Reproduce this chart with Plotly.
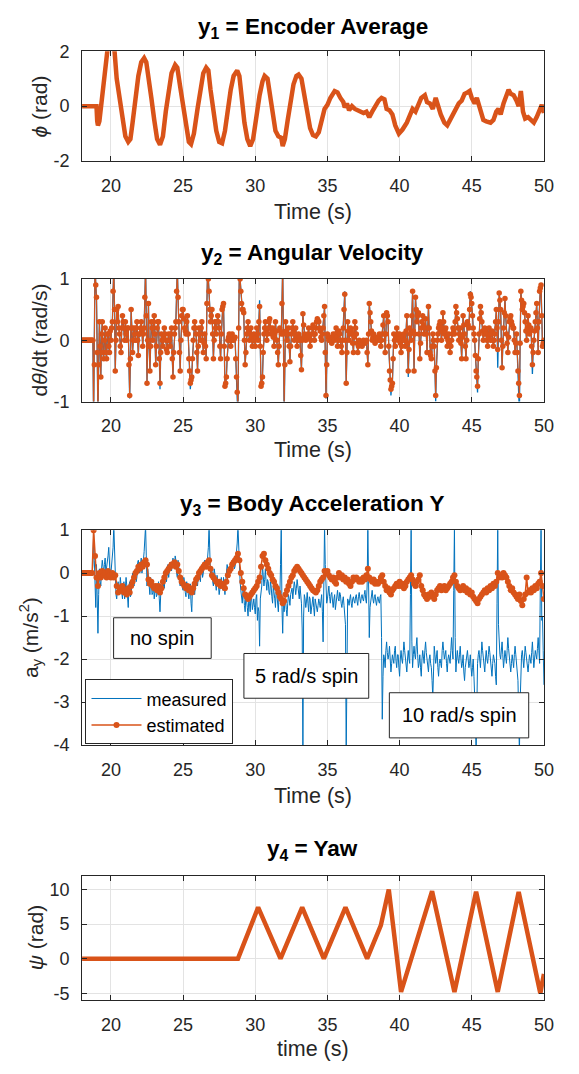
import numpy as np
import plotly.graph_objects as go

W, H = 579, 1074
BLUE = "#0072BD"
ORANGE = "#D95319"
AX = "#262626"
GRID = "#E3E3E3"
FONT = "Liberation Sans, Arial, Helvetica, sans-serif"

# ---------------- data ----------------
X_TICKS = [20, 25, 30, 35, 40, 45, 50]
Y1_TICKS = [-2, 0, 2]
Y2_TICKS = [-1, 0, 1]
Y3_TICKS = [-4, -3, -2, -1, 0, 1]
Y4_TICKS = [-5, 0, 5, 10]

# y1: encoder average (time, rad)
t1 = [18.0, 19.0, 19.05, 19.1, 19.2, 19.35, 19.5, 19.65, 19.75, 20.0,
      20.25, 20.4, 20.6, 20.8, 21.0, 21.2, 21.35, 21.5, 21.7, 21.9,
      22.1, 22.3, 22.45, 22.6, 22.8, 23.0, 23.2, 23.4, 23.6, 23.8,
      24.0, 24.2, 24.45, 24.6, 24.8, 25.0, 25.2, 25.4, 25.55, 25.75,
      26.0, 26.2, 26.4, 26.6, 26.75, 26.9, 27.1, 27.3, 27.5, 27.7,
      27.9, 28.1, 28.3, 28.5, 28.75, 28.9, 29.05, 29.25, 29.45, 29.65,
      29.85, 30.05, 30.3, 30.5, 30.65, 30.85, 31.0, 31.2, 31.4, 31.6,
      31.8, 31.9, 32.05, 32.25, 32.45, 32.65, 32.85, 33.0, 33.2, 33.4,
      33.6, 33.8, 34.0, 34.2, 34.4, 34.6, 34.8, 35.0, 35.2, 35.5,
      35.7, 35.9, 36.1, 36.2, 36.35, 36.5, 36.7, 36.9, 37.1, 37.3,
      37.5, 37.7, 37.9, 38.1, 38.3, 38.55, 38.75, 38.95, 39.1, 39.3,
      39.5, 39.7, 39.95, 40.2, 40.5, 40.7, 40.9, 41.1, 41.3, 41.5,
      41.75, 41.9, 42.1, 42.3, 42.5, 42.65, 42.85, 43.1, 43.3, 43.5,
      43.7, 43.9, 44.1, 44.3, 44.5, 44.7, 44.85, 45.0, 45.2, 45.35,
      45.5, 45.65, 45.8, 46.0, 46.3, 46.5, 46.7, 46.85, 47.0, 47.2,
      47.4, 47.55, 47.7, 47.9, 48.1, 48.25, 48.4, 48.55, 48.7, 48.9,
      49.1, 49.3, 49.5, 49.7, 49.85, 50.0]
phi1 = [0, 0, -0.55, -0.7, -0.55, 0.2, 0.9, 1.5, 2.0, 2.4,
        2.0, 1.0, 0.3, -0.5, -1.1, -1.3, -1.2, -0.6, 0.3, 1.1,
        1.6, 1.75, 1.6, 1.1, 0.3, -0.5, -1.2, -1.4, -1.1, -0.2,
        0.6, 1.2, 1.5, 1.4, 0.7, 0.0, -0.8, -1.3, -1.38, -1.0,
        -0.1, 0.7, 1.2, 1.4, 1.3, 0.6, -0.2, -0.9, -1.3, -1.35,
        -0.9, -0.1, 0.6, 1.1, 1.3, 1.1, 0.3, -0.6, -1.2, -1.45,
        -1.2, -0.4, 0.4, 0.9, 1.1, 1.0, 0.5, -0.3, -0.9, -1.1,
        -1.15, -1.45, -1.2, -0.5, 0.2, 0.8, 1.1, 1.15, 1.0, 0.4,
        -0.3, -0.8, -1.05, -1.1, -0.95, -0.5, -0.1, 0.05, 0.3, 0.55,
        0.5, 0.3, 0.15, -0.05, 0.1, -0.15, 0.0, -0.1, -0.15, -0.2,
        -0.25, -0.2, -0.4, -0.2, 0.0, 0.2, 0.3, 0.25, -0.1, -0.15,
        -0.3, -0.7, -1.0, -0.85, -0.6, -0.3, -0.1, -0.2, 0.1, 0.3,
        0.4, 0.15, 0.1, -0.1, 0.3, 0.0, -0.3, -0.6, -0.7, -0.5,
        -0.3, -0.1, 0.1, 0.2, 0.45, 0.5, 0.55, 0.3, 0.1, 0.3,
        0.05, -0.2, -0.5, -0.55, -0.6, -0.5, -0.2, -0.1, -0.3, 0.1,
        0.4, 0.6, 0.45, 0.4, 0.2, 0.0, 0.55, -0.2, -0.45, -0.4,
        -0.5, -0.6, -0.4, -0.1, 0.05, -0.25]

# sample grid for y2 / y3: values every 0.1 s from 18.0 s, plus
# "mid" values at the half-steps (18.05, 18.15, ...)
T0, DT = 18.0, 0.1

# y2: angular velocity, estimated (rad/s)
est2 = [0, 0, 0, 0, 0, 0, 0, 0, -1.3, 1.3,
        0.7, -1.3, 0.3, -0.6, 0.3, -0.3, 0.2, -0.3, 0.1, -0.2,
        0.0, 0.3, 1.2, -0.5, 0.5, 0.55, 0.1, -0.2, 0.4, 0.2,
        0.3, 0.0, 0.2, -0.9, 0.5, -0.2, 0.2, 0.0, 0.3, -0.25,
        0.1, 0.3, -0.1, 0.2, 1.2, -0.7, 0.6, -0.5, 0.3, 0.0,
        0.4, -0.4, 0.2, 0.3, -0.7, 0.1, -0.1, 0.2, 0.0, -0.2,
        0.1, -0.1, 0.2, -0.6, 0.1, 0.3, 1.2, 0.3, -0.5, 0.4,
        0.5, 0.2, 0.1, 0.4, -0.3, -0.7, -0.6, 0.0, 0.3, 0.1,
        -0.5, 0.2, 0.0, 0.3, -0.2, 0.1, -0.3, 1.2, 0.8, 0.3,
        0.5, -0.3, 0.3, 0.1, 0.4, 0.2, -0.3, 0.5, 0.6, -0.75,
        -0.6, 0.0, 0.1, -0.1, 0.1, 0.0, 0.05, -0.6, -1.1, 1.2,
        0.8, 0.5, 0.45, -0.4, 0.1, 0.3, 0.0, 0.2, -0.1, 0.1,
        -0.1, 0.2, 0.0, 0.55, -0.75, -0.6, 0.1, 0.3, 0.0, 0.2,
        0.35, 0.1, 0.2, -0.1, 0.3, 0.0, -0.4, 0.2, 0.1, 1.2,
        -1.1, 0.3, 0.0, 0.2, -0.35, 0.1, 0.3, 0.0, 0.2, -0.1,
        0.1, 0.0, -0.48, 0.43, 0.1, 0.0, 0.05, 0.2, -0.1, 0.1,
        0.25, 0.0, 0.2, 0.35, 0.3, 0.15, 0.0, 0.2, 0.55, -0.9,
        0.1, 0.0, 0.05, -0.05, 0.1, 0.0, 0.2, -0.1, 0.15, 0.0,
        -0.2, 0.2, 0.75, -0.7, 0.3, 0.0, 0.2, 0.1, -0.2, 0.3,
        0.1, -0.2, 0.0, -0.05, -0.1, 0.0, -0.05, 0.0, -0.4, 0.6,
        0.3, 0.0, 0.1, -0.05, 0.05, 0.0, 0.1, -0.1, 0.1, 0.4,
        -0.2, 0.45, 0.3, -0.5, -0.8, -0.7, 0.1, -0.1, 0.2, 0.0,
        0.1, -0.2, 0.0, 0.1, -0.1, 0.4, -0.5, 0.2, 0.0, 0.8,
        -0.5, 0.7, 0.3, 0.45, -0.3, 0.2, 0.4, 0.1, 0.35, -0.2,
        0.55, -0.2, -0.3, 0.1, -0.1, -0.9, 0.0, 0.2, 0.3, 0.0,
        0.45, 0.1, 0.2, -0.1, 0.1, -0.2, 0.0, 0.2, 0.1, 0.55,
        0.35, 0.0, 0.2, -0.3, 0.4, 0.1, -0.3, 0.3, 0.2, 0.75,
        0.6, 0.2, 0.0, -0.5, -0.75, 0.1, 0.55, 0.3, 0.0, 0.2,
        0.1, -0.1, 0.2, 0.0, 0.15, -0.1, 0.1, 0.5, -0.15, 0.77,
        0.5, -0.45, 0.2, 0.68, 0.1, -0.2, 0.3, 0.4, 0.25, 0.2,
        -0.2, 0.1, -0.5, -0.9, 0.8, 0.5, 0.6, 0.3, 0.0, 0.4,
        0.1, 0.2, -0.4, 0.0, 0.3, 0.6, -0.2, 0.8, 0.9, -0.1,
        0.0]
est2_mid = [0, 0, 0, 0, 0, 0, 0, 0, -0.4, 0.9,
            -0.2, -0.4, -0.1, 0.1, -0.2, 0.0, -0.2, 0.1, -0.1, 0.15,
            0.2, 0.8, 0.5, 0.0, 0.3, 0.2, -0.1, 0.2, 0.3, 0.0,
            0.1, 0.2, -0.4, -0.3, 0.2, 0.0, 0.1, 0.2, 0.0, 0.1,
            0.2, 0.15, 0.1, 0.7, 0.4, 0.0, -0.1, -0.1, 0.2, 0.3,
            0.1, -0.1, 0.3, -0.3, -0.2, 0.0, 0.05, 0.1, -0.15, 0.0,
            0.0, 0.1, -0.3, -0.2, 0.2, 0.8, 0.7, -0.2, 0.0, 0.5,
            0.35, 0.15, 0.3, 0.1, -0.5, -0.65, -0.3, 0.2, 0.2, -0.2,
            -0.1, 0.1, 0.2, 0.0, -0.05, -0.1, 0.6, 1.0, 0.5, 0.4,
            0.1, 0.0, 0.2, 0.3, 0.3, -0.1, 0.1, 0.55, -0.1, -0.7,
            -0.3, 0.05, 0.0, 0.0, 0.05, 0.03, -0.3, -0.85, 0.2, 1.0,
            0.6, 0.5, 0.0, -0.2, 0.2, 0.15, 0.1, 0.05, 0.0, 0.0,
            0.05, 0.1, 0.3, -0.1, -0.7, -0.2, 0.2, 0.15, 0.1, 0.3,
            0.2, 0.15, 0.05, 0.1, 0.15, -0.2, -0.1, 0.15, 0.6, 0.1,
            -0.4, 0.15, 0.1, -0.1, -0.1, 0.2, 0.15, 0.1, 0.05, 0.0,
            0.05, -0.25, 0.0, 0.25, 0.05, 0.02, 0.1, 0.05, 0.0, 0.2,
            0.1, 0.1, 0.3, 0.32, 0.2, 0.05, 0.1, 0.4, -0.2, -0.4,
            0.05, 0.02, 0.0, 0.05, 0.05, 0.1, 0.05, 0.0, 0.1, -0.1,
            0.0, 0.5, 0.0, -0.2, 0.15, 0.1, 0.15, -0.05, 0.05, 0.2,
            -0.05, -0.1, -0.02, -0.08, -0.05, -0.02, -0.03, -0.2, 0.1, 0.45,
            0.15, 0.05, 0.03, 0.0, 0.02, 0.05, 0.0, 0.0, 0.25, 0.1,
            0.1, 0.4, -0.1, -0.65, -0.75, -0.3, 0.0, 0.05, 0.1, 0.05,
            -0.05, -0.1, 0.05, 0.0, 0.15, -0.05, -0.15, 0.1, 0.4, 0.15,
            0.1, 0.5, 0.4, 0.1, -0.05, 0.3, 0.25, 0.2, 0.1, 0.2,
            0.2, -0.25, -0.1, 0.0, -0.5, -0.45, 0.1, 0.25, 0.15, 0.2,
            0.3, 0.15, 0.05, 0.0, -0.05, -0.1, 0.1, 0.15, 0.3, 0.45,
            0.2, 0.1, -0.05, 0.05, 0.25, -0.1, 0.0, 0.25, 0.5, 0.7,
            0.4, 0.1, -0.25, -0.6, -0.3, 0.35, 0.45, 0.15, 0.1, 0.15,
            0.0, 0.05, 0.1, 0.1, 0.0, 0.0, 0.3, 0.2, 0.3, 0.65,
            0.0, -0.1, 0.45, 0.4, -0.05, 0.05, 0.35, 0.3, 0.2, 0.0,
            -0.05, -0.2, -0.7, -0.05, 0.65, 0.55, 0.45, 0.15, 0.2, 0.25,
            0.15, -0.1, -0.2, 0.15, 0.45, 0.2, 0.3, 0.85, 0.4, -0.05]
# y2 measured: equal to the estimate except at these samples
meas2_t = [21.3, 23.4, 25.5, 28.8, 30.3, 32.0, 34.9, 36.2, 39.4, 40.6,
           42.5, 44.9, 45.4, 46.8, 48.3, 49.2]
meas2_v = [-0.95, -0.8, -0.8, -1.3, 0.65, -1.3, -0.95, 0.8, -0.9, -0.6,
           -1.0, 0.8, -0.85, -0.45, -1.2, -0.55]

# y3: body acceleration Y, measured (m/s^2)
meas3 = [0, 0, 0, 0, 0, 0, 0, 0, 0.9, -0.5,
         0.2, -1.4, 0.1, -0.3, 0.3, 0.0, 0.35, 0.1, 0.4, 0.2,
         0.0, 0.3, 1.1, -0.2, -0.6, -0.2, -0.45, -0.3, -0.6, -0.2,
         -0.4, -0.3, -0.8, -0.2, -0.5, 0.0, -0.3, 0.1, -0.1, 0.3,
         0.0, 0.35, 0.1, 0.5, 1.1, -0.3, -0.1, -0.5, -0.2, -0.45,
         -0.6, -0.25, -0.5, -0.2, -0.9, -0.3, -0.1, -0.35, 0.0, 0.1,
         -0.1, 0.25, 0.05, 0.35, 0.1, 0.3, -0.1, 0.15, -0.3, -0.1,
         -0.4, -0.2, -0.55, -0.3, -0.6, -0.25, -0.9, -0.3, -0.5, -0.1,
         -0.3, 0.0, -0.2, 0.15, 0.0, 0.3, 0.1, 0.35, 1.1, -0.1,
         0.1, -0.3, 0.0, -0.4, -0.15, -0.5, -0.2, -0.35, -0.1, -0.5,
         0.0, 0.1, -0.1, 0.25, 0.05, 0.35, 0.15, 0.45, 1.1, 0.2,
         -0.4, -0.7, -0.5, -0.9, -0.6, -1.0, -0.7, -0.5, -0.85, -0.6,
         -0.95, -0.5, -0.8, -1.7, -0.4, 0.2, -0.3, 0.1, -0.4, -0.2,
         -0.5, -0.3, -0.7, -0.4, -0.8, -0.5, -0.9, -0.6, 1.1, -1.4,
         -0.9, -0.6, -1.0, -0.5, -0.75, -0.4, -0.6, -0.2, -0.5, -0.15,
         -0.45, -0.3, -0.7, -4.2, -0.5, -0.8, -0.45, -0.9, -0.6, -0.8,
         -0.55, -1.0, -0.7, -0.9, -0.6, -0.8, -0.5, -1.6, 1.1, -0.4,
         -0.6, -0.3, -0.7, -0.45, -0.8, -0.5, -0.7, -0.4, -0.65, -0.5,
         -0.8, -0.55, -0.9, -4.2, -0.6, -0.75, -0.5, -0.8, -0.55, -0.7,
         -0.5, -0.75, -0.45, -0.7, -0.5, -0.65, -0.4, -0.7, 1.1, -1.5,
         -0.6, -0.4, -0.7, -0.5, -0.75, -0.55, -0.7, -0.5, -3.4, -1.9,
         -2.2, -1.6, -2.0, -1.7, -2.3, -1.9, -2.1, -1.7, -2.2, -1.9,
         -2.4, -1.8, -2.1, -1.6, -2.0, -2.3, -1.8, -2.1, 1.1, -2.2,
         -1.7, -2.0, -1.5, -2.2, -1.9, -2.4, -1.8, -2.1, -1.6, -2.0,
         -2.3, -1.9, -2.2, -2.9, -1.7, -2.1, -1.8, -2.4, -2.0, -2.2,
         -1.6, -2.0, -1.8, -2.3, -1.9, -2.1, -1.5, -2.0, 1.1, -2.3,
         -1.8, -2.1, -1.7, -2.2, -1.9, -2.5, -2.0, -1.8, -2.2, -1.9,
         -2.4, -2.0, -2.7, -4.2, -2.1, -1.8, -2.2, -1.6, -2.0, -2.3,
         -1.8, -2.1, -1.7, -2.0, -2.4, -1.9, -2.1, -2.6, 1.1, -1.8,
         -2.0, -1.6, -2.2, -1.8, -2.1, -1.5, -2.0, -2.3, -1.9, -2.2,
         -1.7, -2.1, -2.5, -4.2, -2.0, -1.8, -2.2, -1.7, -2.0, -2.3,
         -1.9, -2.1, -1.6, -2.2, -1.8, -2.0, -1.5, -2.1, 1.1, -1.0,
         -2.6]
meas3_mid = [0, 0, 0, 0, 0, 0, 0, 0.2, 0.3, -0.8,
             -0.6, -0.5, -0.2, 0.1, 0.15, 0.2, 0.0, 0.3, 0.6, -0.1,
             0.2, 0.6, 0.4, -0.5, -0.3, -0.5, -0.1, -0.55, -0.35, -0.6,
             -0.1, -0.6, -0.3, -0.55, -0.25, -0.2, -0.05, -0.2, 0.25, 0.1,
             0.2, 0.0, 0.3, 0.7, 0.4, 0.1, -0.4, -0.1, -0.5, -0.3,
             -0.4, -0.55, -0.3, -0.6, -0.5, -0.2, -0.3, -0.1, -0.2, 0.2,
             0.05, 0.1, 0.25, 0.2, 0.4, 0.0, 0.3, -0.2, -0.15, -0.35,
             -0.1, -0.45, -0.2, -0.45, -0.4, -0.7, -0.35, -0.2, -0.35, -0.2,
             -0.1, -0.1, 0.1, -0.1, 0.25, 0.2, 0.15, 0.6, 0.3, 0.15,
             -0.2, 0.1, -0.25, -0.05, -0.3, -0.35, -0.1, -0.4, -0.3, -0.2,
             0.2, -0.05, 0.1, 0.15, 0.2, 0.1, 0.3, 0.7, 0.5, -0.2,
             -0.55, -0.4, -0.75, -0.5, -0.8, -0.6, -0.9, -0.6, -0.7, -0.8,
             -0.6, -1.1, -0.9, -0.6, -0.3, -0.1, -0.15, -0.2, -0.15, -0.45,
             -0.2, -0.55, -0.3, -0.6, -0.35, -0.7, -0.45, 0.2, -0.8, -0.6,
             -0.7, -0.85, -0.7, -0.6, -0.5, -0.35, -0.45, -0.3, -0.35, -0.3,
             -0.6, -0.5, -1.3, -1.0, -0.6, -0.65, -0.7, -0.55, -0.95, -0.6,
             -0.8, -0.6, -0.85, -0.75, -0.7, -0.65, -0.9, -0.3, 0.2, -0.7,
             -0.45, -0.55, -0.5, -0.65, -0.6, -0.85, -0.55, -0.6, -0.45, -0.7,
             -0.65, -0.75, -1.2, -1.0, -0.65, -0.6, -0.7, -0.6, -0.65, -0.55,
             -0.65, -0.55, -0.6, -0.55, -0.6, -0.5, -0.6, -0.3, -0.2, -0.8,
             -0.5, -0.6, -0.55, -0.65, -0.6, -0.65, -0.55, -1.5, -2.4, -2.0,
             -1.8, -1.85, -1.9, -2.0, -2.1, -2.0, -1.8, -2.05, -1.9, -2.2,
             -2.0, -2.0, -1.85, -1.8, -2.2, -2.0, -2.0, -0.5, -1.6, -1.9,
             -1.9, -1.7, -1.9, -2.1, -2.2, -2.0, -1.95, -1.8, -1.85, -2.2,
             -2.0, -2.1, -2.5, -2.3, -1.9, -1.95, -2.2, -2.1, -2.1, -1.8,
             -1.8, -1.9, -2.1, -2.0, -2.0, -1.8, -1.8, -0.4, -1.5, -2.0,
             -2.0, -1.9, -2.0, -2.1, -2.3, -2.2, -1.85, -2.0, -2.1, -2.2,
             -2.2, -2.4, -3.3, -3.0, -1.9, -2.0, -1.9, -1.8, -2.2, -2.0,
             -2.0, -1.9, -1.85, -2.2, -2.1, -2.0, -2.4, -0.7, -1.2, -1.9,
             -1.8, -1.9, -2.0, -1.95, -1.8, -1.75, -2.2, -2.1, -2.05, -1.9,
             -1.9, -2.3, -3.3, -3.0, -1.9, -2.0, -1.95, -1.85, -2.15, -2.1,
             -2.0, -1.85, -1.9, -2.0, -1.9, -1.75, -1.8, -0.3, -1.1, -1.8]
# y3 estimated (m/s^2), every 0.1 s
est3 = [0, 0, 0, 0, 0, 0, 0, 0, 1.0, 0.4,
        -0.1, -0.3, 0.0, -0.1, 0.05, -0.05, 0.0, -0.1, 0.05, -0.05,
        -0.1, 0.0, -0.1, -0.05, -0.3, -0.45, -0.35, -0.4, -0.3, -0.45,
        -0.4, -0.5, -0.35, -0.45, -0.3, -0.2, -0.1, 0.0, 0.05, 0.15,
        0.1, 0.2, 0.15, 0.25, 0.3, 0.2, -0.15, -0.25, -0.2, -0.3,
        -0.35, -0.3, -0.4, -0.3, -0.45, -0.35, -0.2, -0.1, 0.0, 0.05,
        0.1, 0.15, 0.2, 0.2, 0.25, 0.15, 0.2, 0.05, -0.1, -0.2,
        -0.25, -0.3, -0.35, -0.3, -0.4, -0.35, -0.45, -0.35, -0.25, -0.15,
        -0.1, 0.0, 0.05, 0.1, 0.15, 0.2, 0.15, 0.25, 0.3, 0.1,
        -0.05, -0.1, -0.15, -0.2, -0.25, -0.2, -0.3, -0.25, -0.3, -0.35,
        -0.2, -0.05, 0.05, 0.1, 0.2, 0.25, 0.3, 0.35, 0.45, 0.3,
        0.0, -0.2, -0.35, -0.5, -0.55, -0.6, -0.55, -0.5, -0.45, -0.4,
        -0.35, -0.3, -0.2, -0.1, 0.15, 0.4, 0.45, 0.3, 0.2, 0.1,
        0.0, -0.05, -0.15, -0.2, -0.3, -0.35, -0.45, -0.55, -0.6, -0.7,
        -0.65, -0.5, -0.4, -0.3, -0.2, -0.1, -0.05, 0.05, 0.1, 0.15,
        0.1, 0.05, 0.0, -0.05, -0.1, -0.15, -0.2, -0.25, -0.3, -0.35,
        -0.4, -0.42, -0.45, -0.4, -0.3, -0.2, -0.15, -0.1, 0.05, 0.0,
        0.05, -0.05, -0.1, -0.15, -0.1, -0.2, -0.25, -0.1, 0.0, -0.1,
        -0.05, -0.15, -0.1, -0.2, -0.15, -0.25, -0.3, -0.2, -0.1, -0.15,
        -0.1, -0.15, -0.2, -0.15, -0.2, -0.1, -0.15, -0.05, 0.1, -0.1,
        -0.15, -0.2, -0.15, -0.25, -0.2, -0.25, -0.2, -0.1, -0.05, -0.2,
        -0.3, -0.4, -0.35, -0.45, -0.5, -0.4, -0.35, -0.3, -0.25, -0.3,
        -0.2, -0.3, -0.25, -0.35, -0.3, -0.2, -0.15, -0.1, -0.05, -0.15,
        -0.25, -0.3, -0.2, -0.15, -0.05, -0.3, -0.4, -0.5, -0.55, -0.6,
        -0.5, -0.55, -0.45, -0.5, -0.6, -0.5, -0.4, -0.35, -0.3, -0.4,
        -0.35, -0.3, -0.4, -0.35, -0.3, -0.25, -0.2, -0.1, -0.05, -0.2,
        -0.3, -0.35, -0.4, -0.35, -0.3, -0.4, -0.35, -0.45, -0.4, -0.5,
        -0.45, -0.55, -0.6, -0.65, -0.7, -0.6, -0.55, -0.5, -0.45, -0.4,
        -0.45, -0.35, -0.4, -0.3, -0.35, -0.25, -0.3, -0.2, 0.0, -0.1,
        -0.05, -0.1, 0.0, -0.05, -0.1, -0.2, -0.3, -0.4, -0.35, -0.45,
        -0.5, -0.55, -0.6, -0.5, -0.65, -0.75, -0.6, -0.5, -0.1, -0.45,
        -0.4, -0.45, -0.35, -0.4, -0.3, -0.35, -0.25, -0.2, 0.0, -0.3,
        -0.6]

# y4: yaw (time, rad)
t4 = [18.0, 28.8, 30.2, 31.75, 33.25, 34.75, 36.25, 37.75, 38.7, 39.25,
      40.1, 42.25, 43.8, 45.3, 46.8, 48.25, 49.75, 50.0]
psi4 = [0, 0, 7.4, 0, 7.4, 0, 7.4, 0, 4.8, 10.0,
        -4.8, 9.75, -4.8, 9.65, -4.8, 9.65, -5.0, -2.2]

TITLES = ["y<sub>1</sub> = Encoder Average", "y<sub>2</sub> = Angular Velocity",
          "y<sub>3</sub> = Body Acceleration Y", "y<sub>4</sub> = Yaw"]
YLABELS = ["<i>ϕ</i> (rad)", "d<i>θ</i>/dt (rad/s)",
           "a<sub>y</sub> (m/s<sup>2</sup>)", "<i>ψ</i> (rad)"]
XLABELS = ["Time (s)", "Time (s)", "Time (s)", "time (s)"]
NOTES = ["no spin", "5 rad/s spin", "10 rad/s spin"]


# ---------------- derived series ----------------
def interleave(main, mid):
    out = []
    for i, v in enumerate(main):
        out.append(v)
        if i < len(mid):
            out.append(mid[i])
    return out


t_fine = np.round(T0 + DT / 2 * np.arange(2 * len(est2) - 1), 3)
meas2_main = list(est2)
for tt, vv in zip(meas2_t, meas2_v):
    meas2_main[int(round((tt - T0) / DT))] = vv
est2_all = interleave(est2, est2_mid)
meas2_all = interleave(meas2_main, est2_mid)
meas3_all = interleave(meas3, meas3_mid)
t3 = np.round(T0 + DT * np.arange(len(est3)), 2)

# ---------------- layout geometry (pixels) ----------------
PL, PR = 83.5, 553.5
ROWS = [(42, 154), (274, 399), (530, 749), (882, 1009)]
TITLE_Y = [18, 249, 504, 856]
XLAB_Y = [206, 448, 801, 1059]
YLAB_X = [40, 40, 31, 37]
YRANGES = [[-2, 2], [-1, 1], [-4, 1], [-6, 12]]
YTICKS = [Y1_TICKS, Y2_TICKS, Y3_TICKS, Y4_TICKS]


def px(x):
    return x / W


def py(y):
    return 1 - y / H


fig = go.Figure()

# y1
fig.add_trace(go.Scatter(x=t1, y=phi1, mode="lines", line=dict(color=ORANGE, width=4.5),
                         xaxis="x", yaxis="y", showlegend=False))
# y2
fig.add_trace(go.Scatter(x=t_fine, y=meas2_all, mode="lines", line=dict(color=BLUE, width=1.3),
                         xaxis="x2", yaxis="y2", showlegend=False))
fig.add_trace(go.Scatter(x=t_fine, y=est2_all, mode="lines+markers", line=dict(color=ORANGE, width=1.1),
                         marker=dict(color=ORANGE, size=5.5), xaxis="x2", yaxis="y2", showlegend=False))
# y3
fig.add_trace(go.Scatter(x=t_fine, y=meas3_all, mode="lines", line=dict(color=BLUE, width=1),
                         name="measured", xaxis="x3", yaxis="y3", showlegend=True))
fig.add_trace(go.Scatter(x=t3, y=est3, mode="lines+markers", line=dict(color=ORANGE, width=1.5),
                         marker=dict(color=ORANGE, size=6), name="estimated",
                         xaxis="x3", yaxis="y3", showlegend=True))
# y4
fig.add_trace(go.Scatter(x=t4, y=psi4, mode="lines", line=dict(color=ORANGE, width=4.5),
                         xaxis="x4", yaxis="y4", showlegend=False))

tickfont = dict(family=FONT, size=18, color=AX)
layout = dict(width=W, height=H, margin=dict(l=0, r=0, t=0, b=0),
              plot_bgcolor="white", paper_bgcolor="white",
              font=dict(family=FONT, color=AX),
              showlegend=True,
              legend=dict(x=px(87), y=py(682), xanchor="left", yanchor="top",
                          bgcolor="white", bordercolor=AX, borderwidth=1,
                          font=dict(family=FONT, size=18, color="black"),
                          tracegroupgap=0, itemwidth=50))

for i in range(4):
    k = "" if i == 0 else str(i + 1)
    top, bot = ROWS[i]
    layout["xaxis" + k] = dict(
        domain=[px(PL), px(PR)], range=[18, 50], anchor="y" + k,
        tickmode="array", tickvals=X_TICKS, ticktext=[str(v) for v in X_TICKS],
        ticks="inside", ticklen=5, tickwidth=1, tickcolor=AX,
        showline=True, linecolor=AX, linewidth=1, mirror="ticks",
        showgrid=True, gridcolor=GRID, gridwidth=1, zeroline=False,
        tickfont=tickfont, ticklabelstandoff=8, fixedrange=True)
    layout["yaxis" + k] = dict(
        domain=[py(bot), py(top)], range=YRANGES[i], anchor="x" + k,
        tickmode="array", tickvals=YTICKS[i],
        ticktext=[str(v) for v in YTICKS[i]],
        ticks="inside", ticklen=5, tickwidth=1, tickcolor=AX,
        showline=True, linecolor=AX, linewidth=1, mirror="ticks",
        showgrid=True, gridcolor=GRID, gridwidth=1, zeroline=False,
        tickfont=tickfont, ticklabelstandoff=8, fixedrange=True)

fig.update_layout(**layout)

ann = []
shapes = []
cx = px((PL + PR) / 2)
for i in range(4):
    top, bot = ROWS[i]
    ann.append(dict(text="<b>" + TITLES[i] + "</b>", x=cx, y=py(TITLE_Y[i]), xref="paper", yref="paper",
                    xanchor="center", yanchor="middle", showarrow=False,
                    font=dict(family=FONT, size=22.5, color="black")))
    ann.append(dict(text=XLABELS[i], x=cx, y=py(XLAB_Y[i]), xref="paper", yref="paper",
                    xanchor="center", yanchor="middle", showarrow=False,
                    font=dict(family=FONT, size=21.5, color=AX)))
    ann.append(dict(text=YLABELS[i], x=px(YLAB_X[i]), y=py((top + bot) / 2), xref="paper", yref="paper",
                    xanchor="center", yanchor="middle", showarrow=False, textangle=-90,
                    font=dict(family=FONT, size=21, color=AX)))

# annotation boxes in the y3 panel (pixel boxes)
BOXES = [(115.6, 214.9, 619.3, 660.7), (248.2, 375.2, 655.7, 701.3), (396.2, 538.0, 695.7, 741.7)]
for (x0, x1, y0, y1), txt in zip(BOXES, NOTES):
    shapes.append(dict(type="rect", xref="paper", yref="paper", x0=px(x0), x1=px(x1),
                       y0=py(y1), y1=py(y0), fillcolor="white",
                       line=dict(color=AX, width=1), layer="above"))
    ann.append(dict(text=txt, x=px((x0 + x1) / 2), y=py((y0 + y1) / 2), xref="paper", yref="paper",
                    xanchor="center", yanchor="middle", showarrow=False,
                    font=dict(family=FONT, size=20, color="black")))

fig.update_layout(annotations=ann, shapes=shapes)
fig.write_html("out.html", config={"displayModeBar": False},
               post_script="document.body.style.margin='0px';document.body.style.overflow='hidden';")
